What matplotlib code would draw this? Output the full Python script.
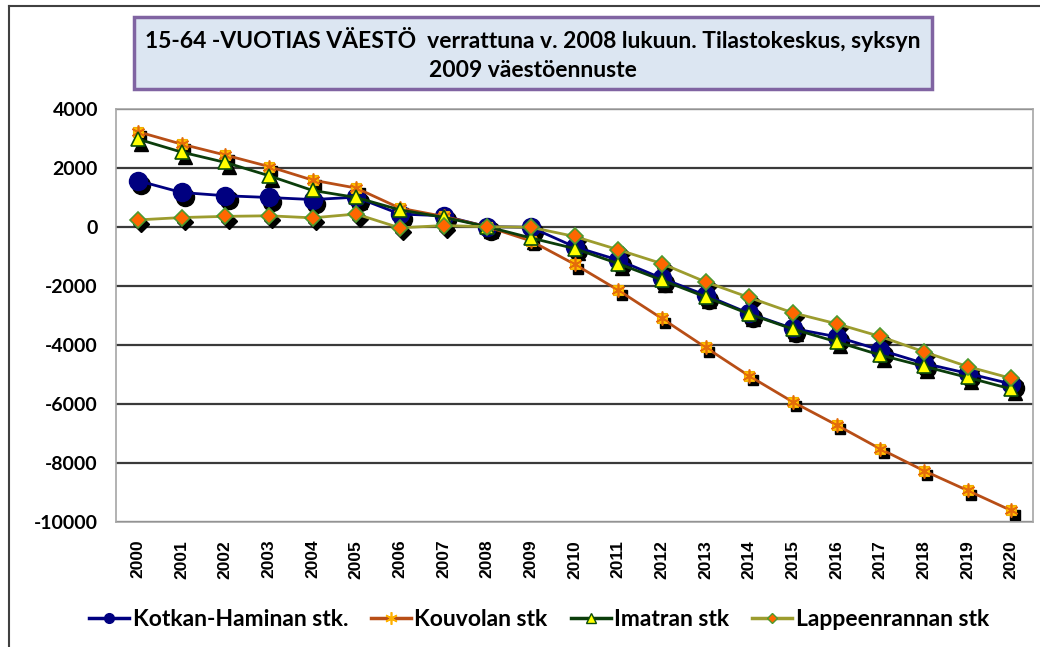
import matplotlib
matplotlib.use("Agg")
from matplotlib import pyplot as plt
from matplotlib.lines import Line2D
from matplotlib.patches import Rectangle
from matplotlib.transforms import offset_copy

years = list(range(2000, 2021))

kotka = [1560, 1160, 1050, 990, 920, 1000, 430, 370, 0, -20,
         -680, -1130, -1750, -2320, -2940, -3450, -3730, -4180, -4630, -4970, -5330]
kouvola = [3220, 2800, 2430, 2040, 1580, 1310, 630, 350, 0, -480,
           -1270, -2150, -3110, -4090, -5060, -5940, -6720, -7530, -8270, -8940, -9620]
imatra = [2970, 2530, 2180, 1730, 1230, 990, 570, 320, 0, -380,
          -740, -1250, -1810, -2380, -2960, -3470, -3900, -4350, -4730, -5110, -5500]
lappeenranta = [230, 310, 350, 370, 300, 430, -40, 40, 0, -20,
                -330, -780, -1250, -1870, -2400, -2920, -3290, -3720, -4240, -4740, -5140]

labels = ["Kotkan-Haminan stk.", "Kouvolan stk", "Imatran stk", "Lappeenrannan stk"]
title = "15-64 -VUOTIAS VÄESTÖ  verrattuna v. 2008 lukuun. Tilastokeskus, syksyn\n2009 väestöennuste"

W, H = 1040, 647
fig = plt.figure(figsize=(W / 100, H / 100), dpi=100)


def fx(px):
    return px / W


def fy(py):
    return 1 - py / H


# outer chart frame (only top and left edges are visible)
fig.add_artist(Line2D([fx(8.5), 1.01], [fy(6), fy(6)], transform=fig.transFigure,
                      color="#404040", lw=1.5))
fig.add_artist(Line2D([fx(8.5), fx(8.5)], [fy(6), -0.01], transform=fig.transFigure,
                      color="#404040", lw=1.5))

# title box
fig.add_artist(Rectangle((fx(134), fy(89)), fx(932) - fx(134), fy(17) - fy(89),
                         transform=fig.transFigure, facecolor="#DCE6F2",
                         edgecolor="#8064A2", lw=2.5))
fig.text(fx(533), fy(54), title, ha="center", va="center", fontsize=16.5,
         family="Lato", fontweight="bold", linespacing=1.45, color="black")

ax = fig.add_axes([fx(116), fy(521.7), fx(1033) - fx(116), fy(108.7) - fy(521.7)])
ax.set_xlim(1999.5, 2020.5)
ax.set_ylim(-10000, 4000)
ax.set_yticks(range(-10000, 4001, 2000))
ax.set_xticks(years)
ax.set_xticklabels([str(y) for y in years], rotation=90, fontsize=12.5,
                   fontweight="bold", family="Liberation Sans")
ax.set_yticklabels([str(v) for v in range(-10000, 4001, 2000)], fontsize=14,
                   fontweight="bold", family="Lato")
ax.tick_params(axis="both", length=0)
ax.tick_params(axis="y", pad=13)
ax.tick_params(axis="x", pad=13)
ax.grid(axis="y", color="#3a3a3a", lw=1.6, zorder=1)
ax.set_axisbelow(True)
for sp in ax.spines.values():
    sp.set_color("#A6A6A6")
    sp.set_linewidth(1.2)

shadow = offset_copy(ax.transData, fig=fig, x=3.5, y=-4.5, units="dots")

# marker shadows
ax.plot(years, kotka, "o", ms=13, color="black", transform=shadow, zorder=2)
ax.plot(years, kouvola, "s", ms=7.5, color="black", transform=shadow, zorder=2)
ax.plot(years, imatra, "^", ms=10, color="black", transform=shadow, zorder=2)
ax.plot(years, lappeenranta, "D", ms=8.5, color="black", transform=shadow, zorder=2)

# series
ax.plot(years, kotka, "-o", color="#000080", lw=2, ms=13, mfc="#000080",
        mec="#000080", zorder=3)
ax.plot(years, kouvola, "-s", color="#B84E16", lw=2, ms=7.5, mfc="#FFC000",
        mec="#F0B000", mew=0.8, zorder=3)
ax.plot(years, kouvola, linestyle="none", marker=(6, 2, 0), ms=10, color="#E46C0A",
        mew=1.2, zorder=3.1)
ax.plot(years, imatra, "-^", color="#0B3D0B", lw=2, ms=10, mfc="#FFFF00",
        mec="#0B4D0B", mew=1.2, zorder=3.2)
ax.plot(years, lappeenranta, "-D", color="#9C9C2E", lw=2, ms=8.5, mfc="#FF6600",
        mec="#4E9A2E", mew=1.2, zorder=3.3)

handles = [
    Line2D([], [], color="#000080", lw=2.5, marker="o", ms=7, mfc="#000080", mec="#000080"),
    Line2D([], [], color="#B84E16", lw=2.5, marker=(6, 2, 0), ms=9, mec="#FFB000", mew=1.2),
    Line2D([], [], color="#0B3D0B", lw=2.5, marker="^", ms=7, mfc="#FFFF00", mec="#0B4D0B"),
    Line2D([], [], color="#9C9C2E", lw=2.5, marker="D", ms=5.5, mfc="#FF6600", mec="#4E9A2E"),
]
fig.legend(handles, labels, loc="center", bbox_to_anchor=(fx(539), fy(620)), ncol=4,
           frameon=False, handlelength=1.75, handletextpad=0.15, columnspacing=1.0,
           prop={"family": "Lato", "weight": "bold", "size": 16.5})

fig.savefig("out.png", dpi=100)
